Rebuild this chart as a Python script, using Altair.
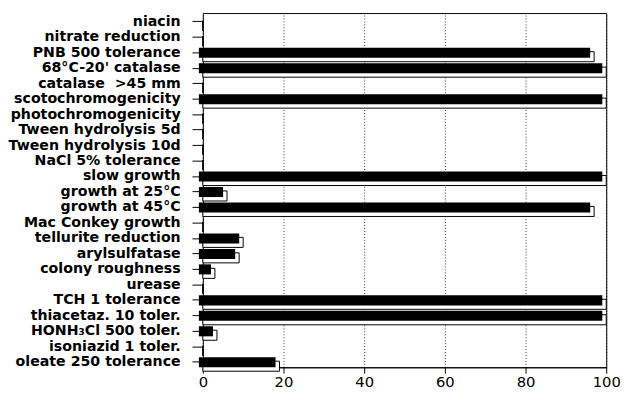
import altair as alt
import pandas as pd

categories = [
    "niacin", "nitrate reduction", "PNB 500 tolerance", "68°C-20' catalase",
    "catalase \u00a0>45 mm", "scotochromogenicity", "photochromogenicity",
    "Tween hydrolysis 5d", "Tween hydrolysis 10d", "NaCl 5% tolerance",
    "slow growth", "growth at 25°C", "growth at 45°C", "Mac Conkey growth",
    "tellurite reduction", "arylsulfatase", "colony roughness", "urease",
    "TCH 1 tolerance", "thiacetaz. 10 toler.", "HONH\u2083Cl 500 toler.",
    "isoniazid 1 toler.", "oleate 250 tolerance",
]
percent = [0, 0, 97, 100, 0, 100, 0, 0, 0, 0, 100, 6, 97, 0, 10, 9, 3, 0,
           100, 100, 3.5, 0, 19]
x_ticks = [0, 20, 40, 60, 80, 100]

df = pd.DataFrame({"test": categories, "pct": percent})

FONT = "DejaVu Sans"

y = alt.Y(
    "test:N", sort=categories,
    scale=alt.Scale(paddingInner=0.35, paddingOuter=0.12, align=1),
    axis=alt.Axis(title=None, domain=False, tickSize=11, tickColor="black",
                  labelPadding=12, labelFont=FONT, labelFontSize=14.4,
                  labelFontWeight="bold", labelColor="black",
                  minExtent=193, maxExtent=193, grid=False),
)
x = alt.X(
    "pct:Q",
    scale=alt.Scale(domain=[0, 100], nice=False, zero=True),
    axis=alt.Axis(title=None, values=x_ticks, grid=True, gridDash=[1, 2],
                  gridColor="black", gridOpacity=0.8, domain=True,
                  domainColor="black", tickSize=6, tickColor="black",
                  labelPadding=2, labelFont=FONT, labelFontSize=15,
                  labelColor="black", labelFlush=False,
                  minExtent=22, maxExtent=22),
)

depth = alt.Chart(df).mark_bar(fill="white", stroke="black", strokeWidth=1,
                               yOffset=4).encode(x=x, y=y)
front = alt.Chart(df).mark_bar(fill="black", xOffset=-4).encode(x=x, y=y)

chart = (
    alt.layer(depth, front)
    .properties(width=410, height=360, background="white",
                padding={"left": 0, "top": 2, "right": 0, "bottom": 0})
    .configure_view(stroke="black", strokeWidth=1)
)

chart.save("out.html", embed_options={"renderer": "svg", "actions": False})
